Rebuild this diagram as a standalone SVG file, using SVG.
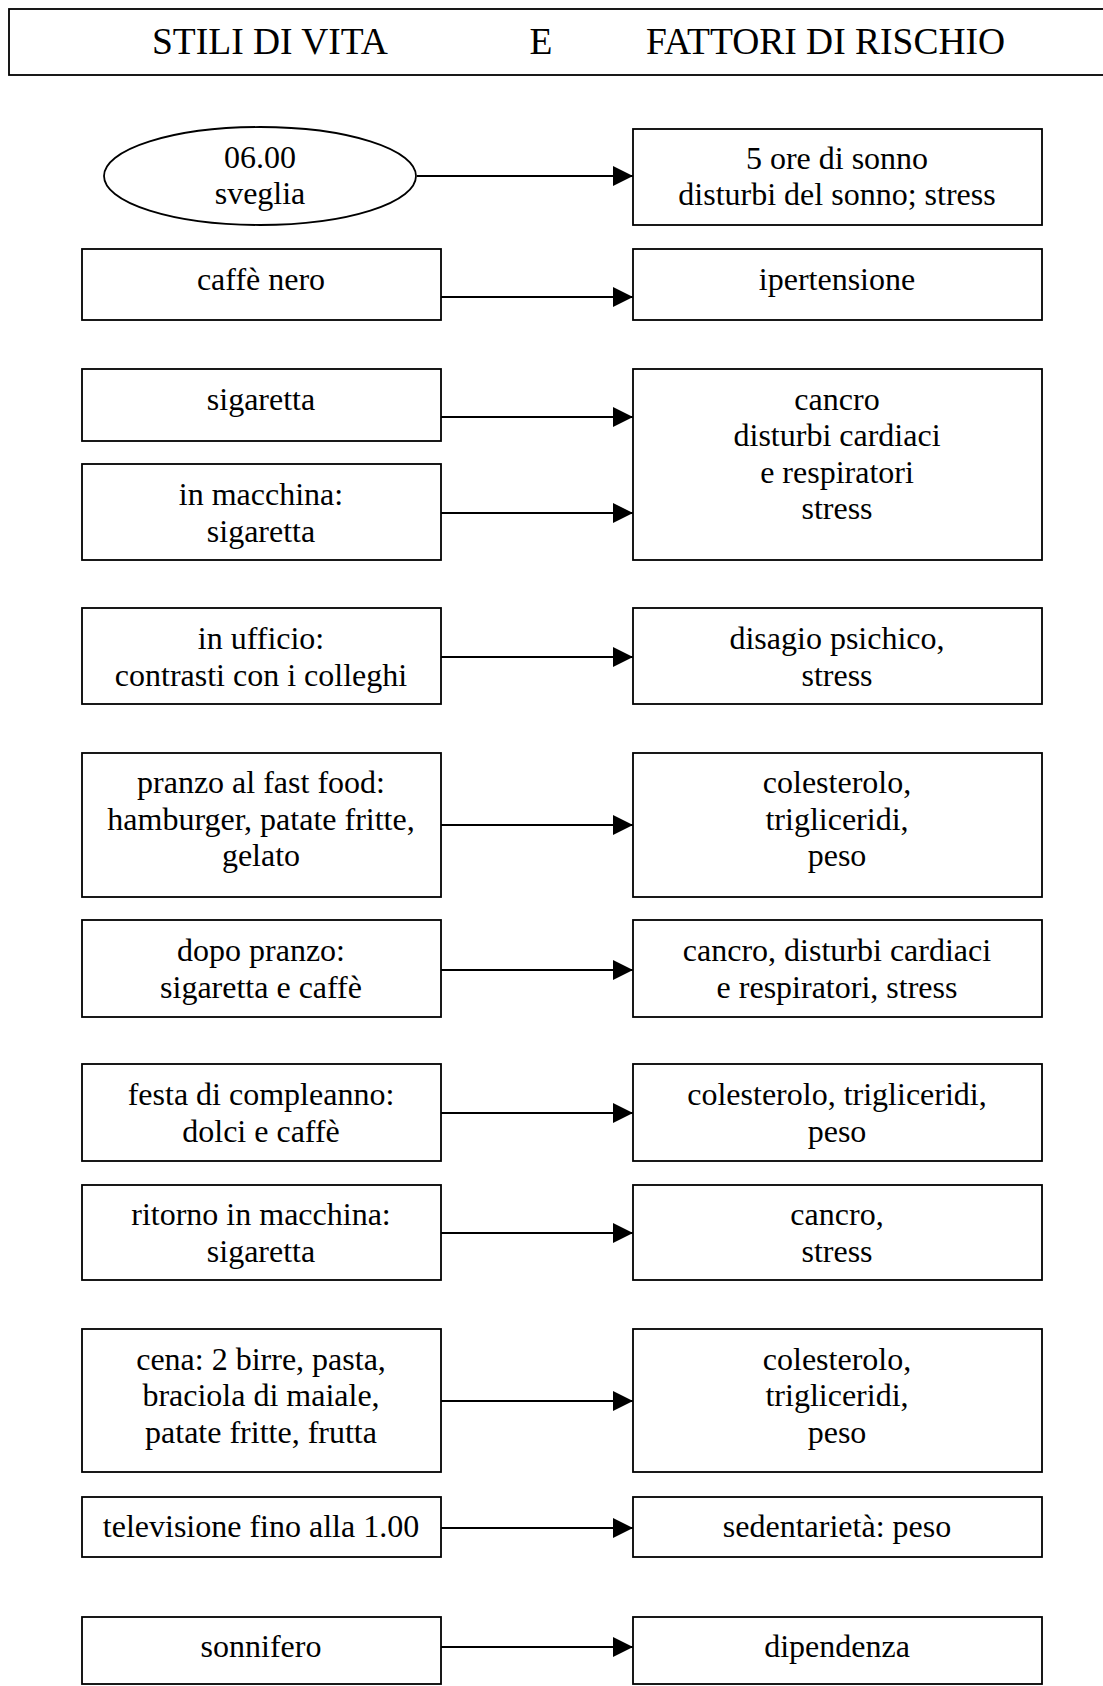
<svg xmlns="http://www.w3.org/2000/svg" width="1103" height="1686" viewBox="0 0 1103 1686">
<style>
.b{fill:#fff;stroke:#000;stroke-width:1.8}
.t{font-family:"Liberation Serif","Times New Roman",serif;font-size:32px;fill:#000;text-anchor:middle}
.h{font-family:"Liberation Serif","Times New Roman",serif;font-size:37.5px;fill:#000}
.c{stroke:#000;stroke-width:1.8;fill:none;marker-end:url(#ah)}
</style>
<defs>
<marker id="ah" viewBox="0 0 20 20" refX="20" refY="10" markerWidth="20" markerHeight="20" markerUnits="userSpaceOnUse" orient="auto">
<path d="M0,0 L20,10 L0,20 Z" fill="#000"/>
</marker>
</defs>
<g id="title">
<rect class="b" x="9" y="9" width="1110" height="66"/>
<text class="h" x="152" y="54">STILI DI VITA</text>
<text class="h" x="541" y="54" text-anchor="middle">E</text>
<text class="h" x="646" y="54">FATTORI DI RISCHIO</text>
</g>
<g id="connectors">
<line class="c" x1="417" y1="176" x2="633" y2="176"/>
<line class="c" x1="441" y1="297" x2="633" y2="297"/>
<line class="c" x1="441" y1="417" x2="633" y2="417"/>
<line class="c" x1="441" y1="513" x2="633" y2="513"/>
<line class="c" x1="441" y1="657" x2="633" y2="657"/>
<line class="c" x1="441" y1="825" x2="633" y2="825"/>
<line class="c" x1="441" y1="970" x2="633" y2="970"/>
<line class="c" x1="441" y1="1113" x2="633" y2="1113"/>
<line class="c" x1="441" y1="1233" x2="633" y2="1233"/>
<line class="c" x1="441" y1="1401" x2="633" y2="1401"/>
<line class="c" x1="441" y1="1528" x2="633" y2="1528"/>
<line class="c" x1="441" y1="1647" x2="633" y2="1647"/>
</g>
<g id="n-sveglia">
<ellipse class="b" cx="260" cy="176" rx="156" ry="49"/>
<text class="t" x="260" y="168">06.00</text>
<text class="t" x="260" y="204">sveglia</text>
</g>
<g id="r-sonno">
<rect class="b" x="633" y="129" width="409" height="96"/>
<text class="t" x="837" y="169">5 ore di sonno</text>
<text class="t" x="837" y="205">disturbi del sonno; stress</text>
</g>
<g id="n-caffe">
<rect class="b" x="82" y="249" width="359" height="71"/>
<text class="t" x="261" y="290">caffè nero</text>
</g>
<g id="r-ipertensione">
<rect class="b" x="633" y="249" width="409" height="71"/>
<text class="t" x="837" y="290">ipertensione</text>
</g>
<g id="n-sigaretta">
<rect class="b" x="82" y="369" width="359" height="72"/>
<text class="t" x="261" y="410">sigaretta</text>
</g>
<g id="n-macchina">
<rect class="b" x="82" y="464" width="359" height="96"/>
<text class="t" x="261" y="505">in macchina:</text>
<text class="t" x="261" y="542">sigaretta</text>
</g>
<g id="r-cancro">
<rect class="b" x="633" y="369" width="409" height="191"/>
<text class="t" x="837" y="410">cancro</text>
<text class="t" x="837" y="446">disturbi cardiaci</text>
<text class="t" x="837" y="483">e respiratori</text>
<text class="t" x="837" y="519">stress</text>
</g>
<g id="n-ufficio">
<rect class="b" x="82" y="608" width="359" height="96"/>
<text class="t" x="261" y="649">in ufficio:</text>
<text class="t" x="261" y="686">contrasti con i colleghi</text>
</g>
<g id="r-disagio">
<rect class="b" x="633" y="608" width="409" height="96"/>
<text class="t" x="837" y="649">disagio psichico,</text>
<text class="t" x="837" y="686">stress</text>
</g>
<g id="n-pranzo">
<rect class="b" x="82" y="753" width="359" height="144"/>
<text class="t" x="261" y="793">pranzo al fast food:</text>
<text class="t" x="261" y="830">hamburger, patate fritte,</text>
<text class="t" x="261" y="866">gelato</text>
</g>
<g id="r-colesterolo1">
<rect class="b" x="633" y="753" width="409" height="144"/>
<text class="t" x="837" y="793">colesterolo,</text>
<text class="t" x="837" y="830">trigliceridi,</text>
<text class="t" x="837" y="866">peso</text>
</g>
<g id="n-dopopranzo">
<rect class="b" x="82" y="920" width="359" height="97"/>
<text class="t" x="261" y="961">dopo pranzo:</text>
<text class="t" x="261" y="998">sigaretta e caffè</text>
</g>
<g id="r-cancro2">
<rect class="b" x="633" y="920" width="409" height="97"/>
<text class="t" x="837" y="961">cancro, disturbi cardiaci</text>
<text class="t" x="837" y="998">e respiratori, stress</text>
</g>
<g id="n-festa">
<rect class="b" x="82" y="1064" width="359" height="97"/>
<text class="t" x="261" y="1105">festa di compleanno:</text>
<text class="t" x="261" y="1142">dolci e caffè</text>
</g>
<g id="r-colesterolo2">
<rect class="b" x="633" y="1064" width="409" height="97"/>
<text class="t" x="837" y="1105">colesterolo, trigliceridi,</text>
<text class="t" x="837" y="1142">peso</text>
</g>
<g id="n-ritorno">
<rect class="b" x="82" y="1185" width="359" height="95"/>
<text class="t" x="261" y="1225">ritorno in macchina:</text>
<text class="t" x="261" y="1262">sigaretta</text>
</g>
<g id="r-cancro3">
<rect class="b" x="633" y="1185" width="409" height="95"/>
<text class="t" x="837" y="1225">cancro,</text>
<text class="t" x="837" y="1262">stress</text>
</g>
<g id="n-cena">
<rect class="b" x="82" y="1329" width="359" height="143"/>
<text class="t" x="261" y="1370">cena: 2 birre, pasta,</text>
<text class="t" x="261" y="1406">braciola di maiale,</text>
<text class="t" x="261" y="1443">patate fritte, frutta</text>
</g>
<g id="r-colesterolo3">
<rect class="b" x="633" y="1329" width="409" height="143"/>
<text class="t" x="837" y="1370">colesterolo,</text>
<text class="t" x="837" y="1406">trigliceridi,</text>
<text class="t" x="837" y="1443">peso</text>
</g>
<g id="n-televisione">
<rect class="b" x="82" y="1497" width="359" height="60"/>
<text class="t" x="261" y="1537">televisione fino alla 1.00</text>
</g>
<g id="r-sedentarieta">
<rect class="b" x="633" y="1497" width="409" height="60"/>
<text class="t" x="837" y="1537">sedentarietà: peso</text>
</g>
<g id="n-sonnifero">
<rect class="b" x="82" y="1617" width="359" height="67"/>
<text class="t" x="261" y="1657">sonnifero</text>
</g>
<g id="r-dipendenza">
<rect class="b" x="633" y="1617" width="409" height="67"/>
<text class="t" x="837" y="1657">dipendenza</text>
</g>
</svg>
